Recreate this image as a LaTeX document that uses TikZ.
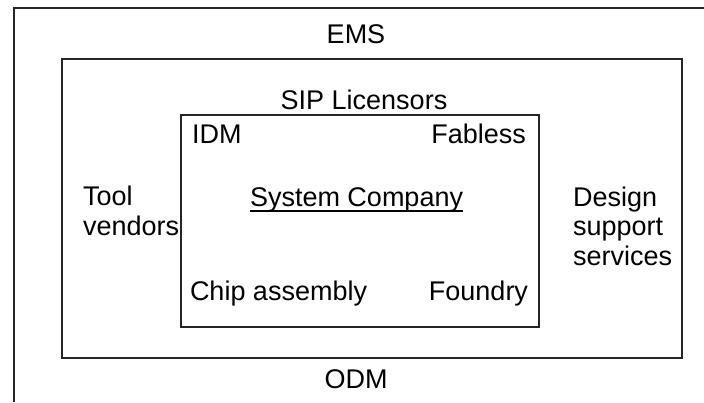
\documentclass[tikz,border=0pt]{standalone}
\usepackage{fontspec}
\setmainfont{Liberation Sans}
\begin{document}
\begin{tikzpicture}[x=1pt,y=-1pt,
  frame/.style={line width=1.3pt, draw=black!85},
  lbl/.style={inner sep=0pt, outer sep=0pt, font=\fontsize{27}{30}\selectfont}]
\useasboundingbox (0,0) rectangle (704,402);
% outer frame (top and left only)
\draw[frame] (14,402) -- (14,8) -- (704,8);
% middle box
\draw[frame] (62,59) rectangle (682,358);
% inner box
\draw[frame] (181,115) rectangle (539,327);
% labels
\node[lbl, anchor=base] (ems) at (356,43) {EMS};
\node[lbl, anchor=base] (sip) at (364,109) {SIP Licensors};
\node[lbl, anchor=base west] (idm) at (192,143) {IDM};
\node[lbl, anchor=base east] (fab) at (526,143) {Fabless};
\node[lbl, anchor=base west] (sys) at (250,206) {System Company};
\draw[line width=2.6pt] ([yshift=-5pt]sys.base west) -- ([yshift=-5pt]sys.base east);
\node[lbl, anchor=base west] (tool1) at (83,205) {Tool};
\node[lbl, anchor=base west] (tool2) at (83,235) {vendors};
\node[lbl, anchor=base west] (des1) at (573,206) {Design};
\node[lbl, anchor=base west] (des2) at (573,235.5) {support};
\node[lbl, anchor=base west] (des3) at (573,265) {services};
\node[lbl, anchor=base west] (chip) at (190,300) {Chip assembly};
\node[lbl, anchor=base east] (fdy) at (528,300) {Foundry};
\node[lbl, anchor=base] (odm) at (356,388) {ODM};
\end{tikzpicture}
\end{document}
